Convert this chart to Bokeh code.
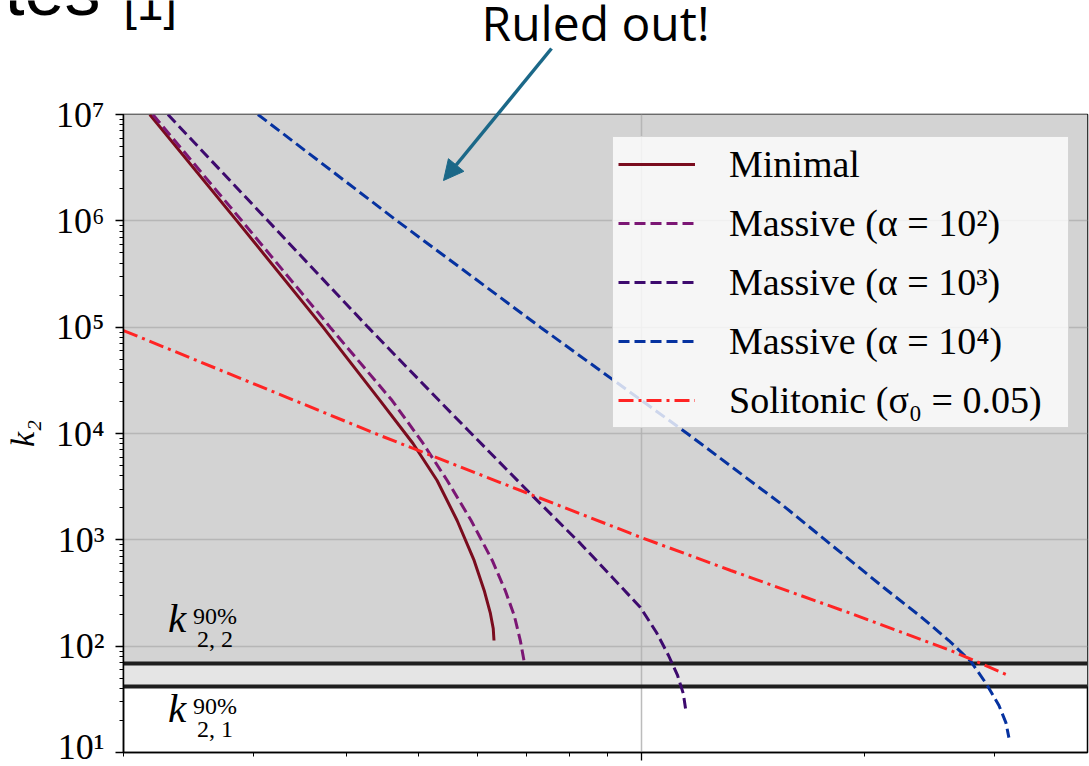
from bokeh.plotting import figure
from bokeh.layouts import column
from bokeh.models import Label, Arrow, NormalHead, Range1d, FixedTicker
from bokeh.embed import file_html
from bokeh.resources import INLINE

# ---------------- data ----------------
minimal_x = [0.2170, 0.2845, 0.3718, 0.4440, 0.4918, 0.5300, 0.5640, 0.5946, 0.6135, 0.6251, 0.6310, 0.6325]
minimal_k = [1e7, 1e6, 1e5, 2.04e4, 8054, 3613, 1521, 640, 334, 207, 146.6, 113]

massive2_x = [0.2191, 0.2889, 0.3800, 0.4609, 0.5075, 0.5469, 0.5891, 0.6291, 0.6550, 0.6736, 0.6864, 0.6950]
massive2_k = [1e7, 1e6, 1e5, 2.04e4, 8054, 3613, 1521, 640, 334, 194, 113, 70.2]

massive3_x = [0.2296, 0.3133, 0.4276, 0.5333, 0.5840, 0.7123, 0.8271, 0.9138, 0.997, 1.048, 1.088, 1.119, 1.139, 1.147]
massive3_k = [1e7, 1e6, 1e5, 2.04e4, 1.067e4, 2612, 925, 443, 231, 134.6, 81.7, 53, 35.9, 25.9]

massive4_x = [0.3037, 0.4680, 0.7304, 1.153, 1.541, 2.123, 2.382, 2.600, 2.784, 2.925, 3.038, 3.104, 3.133]
massive4_k = [1e7, 1e6, 1e5, 1e4, 2197, 356, 190, 113, 71.8, 43.6, 27.7, 19.1, 13.8]

soliton_x = [0.2, 0.444, 0.715, 1.0, 1.32, 1.917, 2.616, 3.13]
soliton_k = [9.3e4, 9.58e3, 2.61e3, 1.05e3, 515, 203, 91, 53]

k21_90 = 41.7
k22_90 = 68.7

y_ticks = [1e1, 1e2, 1e3, 1e4, 1e5, 1e6, 1e7]
y_tick_labels = ["10¹", "10²", "10³", "10⁴", "10⁵", "10⁶", "10⁷"]
x_ticks = [1.0]
series_labels = ["Minimal", "Massive (α = 10²)", "Massive (α = 10³)",
                 "Massive (α = 10⁴)", "Solitonic (σ₀ = 0.05)"]

# ---------------- main figure ----------------
p = figure(width=1089, height=766, x_axis_type="log", y_axis_type="log",
           x_range=Range1d(0.2, 4.0), y_range=Range1d(10, 1e7),
           output_backend="svg", toolbar_location=None,
           min_border_left=122, min_border_top=114, min_border_right=2,
           min_border_bottom=14)
p.background_fill_color = "white"
p.border_fill_color = "white"
p.outline_line_color = "black"
p.outline_line_width = 1.5

y_minor = [m * 10 ** e for e in range(1, 7) for m in range(2, 10)]
x_minor = [m / 10 for m in range(2, 10)] + [2.0, 3.0]
p.yaxis.ticker = FixedTicker(ticks=y_ticks, minor_ticks=y_minor)
p.xaxis.ticker = FixedTicker(ticks=x_ticks, minor_ticks=x_minor)
p.yaxis.major_label_overrides = {float(t): l for t, l in zip(y_ticks, y_tick_labels)}

for ax in (p.xaxis[0], p.yaxis[0]):
    ax.axis_line_color = "black"
    ax.axis_line_width = 1.5
    ax.major_tick_line_color = "black"
    ax.minor_tick_line_color = "black"
    ax.major_tick_line_width = 1.3
    ax.minor_tick_line_width = 1.0
    ax.major_tick_in = 0
    ax.minor_tick_in = 0

p.yaxis.major_tick_out = 8
p.yaxis.minor_tick_out = 4
p.yaxis.major_label_text_font = "Liberation Serif"
p.yaxis.major_label_text_font_size = "36px"
p.yaxis.major_label_text_color = "black"
p.yaxis.major_label_standoff = 11
p.yaxis.axis_label = "k₂"
p.yaxis.axis_label_text_font = "Liberation Serif"
p.yaxis.axis_label_text_font_style = "italic"
p.yaxis.axis_label_text_font_size = "34px"
p.yaxis.axis_label_text_color = "black"
p.yaxis.axis_label_standoff = 12

p.xaxis.major_tick_out = 8
p.xaxis.minor_tick_out = 4
p.xaxis.major_label_overrides = {1.0: " "}
p.xaxis.major_label_text_font_size = "1px"
p.xaxis.major_label_standoff = 0

p.grid.grid_line_color = "#b0b0b0"
p.grid.grid_line_width = 1.5
p.grid.grid_line_alpha = 0.85

# ruled-out shaded bands
p.hstrip(y0=[k22_90], y1=[1e9], fill_color="#d3d3d3", line_color=None, level="image")
p.hstrip(y0=[k21_90], y1=[k22_90], fill_color="#e5e5e5", line_color=None, level="image")
p.hspan(y=[k22_90, k21_90], line_color="#1e1e1e", line_width=4)

# curves
p.line(minimal_x, minimal_k, line_color="#7a0c1e", line_width=3, legend_label=series_labels[0])
p.line(massive2_x, massive2_k, line_color="#7b1674", line_width=3, line_dash="11 5",
       legend_label=series_labels[1])
p.line(massive3_x, massive3_k, line_color="#3d0a6e", line_width=3, line_dash="11 5",
       legend_label=series_labels[2])
p.line(massive4_x, massive4_k, line_color="#0632a0", line_width=3, line_dash="11 5",
       legend_label=series_labels[3])
p.line(soliton_x, soliton_k, line_color="#ff2424", line_width=3, line_dash="15 5 3 5",
       legend_label=series_labels[4])

lg = p.legend[0]
lg.location = (489, 324)
lg.label_text_font = "Liberation Serif"
lg.label_text_font_size = "38px"
lg.label_text_color = "black"
lg.glyph_width = 77
lg.glyph_height = 40
lg.label_height = 40
lg.label_width = 334
lg.label_standoff = 34
lg.spacing = 15
lg.padding = 5
lg.margin = 0
lg.background_fill_color = "white"
lg.background_fill_alpha = 0.8
lg.border_line_color = "#cccccc"
lg.border_line_alpha = 0.8

# threshold labels k_{2,2}^{90%}, k_{2,1}^{90%}
for yk, sub in ((113, "2, 2"), (16.1, "2, 1")):
    p.add_layout(Label(x=0.2296, y=yk, text="k", text_font="Liberation Serif",
                       text_font_style="italic", text_font_size="41px", text_color="black"))
    p.add_layout(Label(x=0.2296, y=yk, x_offset=25, y_offset=12, text="90%",
                       text_font="Liberation Serif", text_font_size="24px", text_color="black"))
    p.add_layout(Label(x=0.2296, y=yk, x_offset=29, y_offset=-11, text=sub,
                       text_font="Liberation Serif", text_font_size="24px", text_color="black"))

# ---------------- transparent overlay for slide texts and arrow ----------------
ov = figure(width=1089, height=766, x_range=Range1d(0, 1089), y_range=Range1d(766, 0),
            output_backend="svg", toolbar_location=None, min_border=0,
            x_axis_location=None, y_axis_location=None)
ov.grid.visible = False
ov.outline_line_color = None
ov.background_fill_alpha = 0
ov.border_fill_alpha = 0
ov.margin = (-766, 0, 0, 0)
for fig in (p, ov):
    try:
        fig.frame_align = False
    except Exception:
        pass

ov.add_layout(Label(x=100, y=-11, text="tes", text_align="right", text_baseline="alphabetic",
                    text_font="Liberation Sans", text_font_size="72px", text_color="black"))
ov.add_layout(Label(x=123, y=3, text="[1]", text_baseline="alphabetic",
                    text_font="Liberation Sans", text_font_size="48px", text_color="black"))
ov.add_layout(Label(x=481, y=22, text="Ruled out!", text_baseline="alphabetic",
                    text_font="Open Sans", text_font_size="48px", text_color="black"))
ac = "#1b6888"
ov.add_layout(Arrow(end=NormalHead(size=20, fill_color=ac, line_color=ac),
                    x_start=551, y_start=48, x_end=443, y_end=180,
                    line_color=ac, line_width=3.5))

layout = column(p, ov)
open("out.html", "w").write(file_html(layout, INLINE))
